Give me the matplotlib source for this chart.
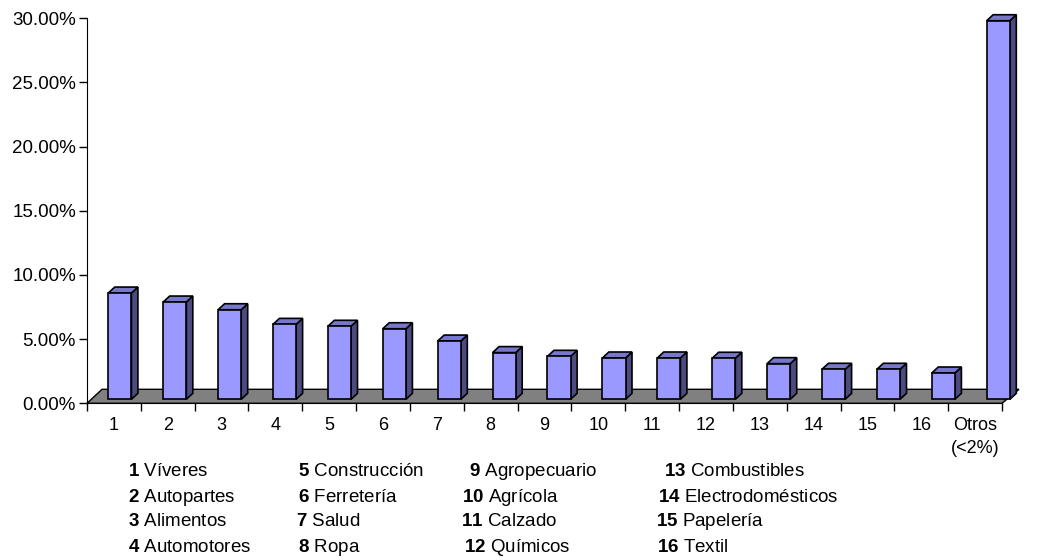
import numpy as np
import matplotlib.pyplot as plt
from matplotlib.patches import Polygon

# Datos (participación por sector)
categorias = ['1', '2', '3', '4', '5', '6', '7', '8', '9', '10', '11', '12',
              '13', '14', '15', '16', 'Otros\n(<2%)']
valores = [8.28, 7.58, 6.98, 5.84, 5.69, 5.50, 4.54, 3.64, 3.35, 3.22, 3.22,
           3.20, 2.78, 2.34, 2.34, 2.05, 29.5]
sectores = ['Víveres', 'Autopartes', 'Alimentos', 'Automotores',
            'Construcción', 'Ferretería', 'Salud', 'Ropa',
            'Agropecuario', 'Agrícola', 'Calzado', 'Químicos',
            'Combustibles', 'Electrodomésticos', 'Papelería', 'Textil']

plt.rcParams['font.family'] = ['Liberation Sans', 'DejaVu Sans']
plt.rcParams['mathtext.fontset'] = 'custom'
plt.rcParams['mathtext.rm'] = 'Liberation Sans'
plt.rcParams['mathtext.bf'] = 'Liberation Sans:bold'

W, H = 1041, 560
fig = plt.figure(figsize=(W / 100, H / 100), dpi=100)
# ejes en pixeles: x 87..1002, y 18..403 (desde arriba)
ax = fig.add_axes([87 / W, (H - 403.3) / H, (1002 - 87) / W, (403.3 - 18.3) / H])
n = len(valores)
ax.set_xlim(-0.5, n - 0.5)
ax.set_ylim(0, 30)
for s in ['top', 'right']:
    ax.spines[s].set_visible(False)
ax.spines['left'].set_bounds(0, 30)
ax.patch.set_alpha(0)

# posiciones de las barras (ligero corrimiento por la perspectiva 3D)
pos = np.arange(n) * 1.02 + 0.11
ancho = 0.43
base = 0.31


def px_to_data(pts):
    return ax.transData.inverted().transform(pts)


def data_to_px(pts):
    return ax.transData.transform(pts)


# piso gris
fd = data_to_px([(-0.5, 0), (n - 0.5, 0)])
piso = np.array([fd[0], fd[1], fd[1] + (17, 14), fd[0] + (15, 14)])
ax.add_patch(Polygon(px_to_data(piso), closed=True, facecolor='#808080',
                     edgecolor='black', lw=1, zorder=1, clip_on=False))

# barras 3D
barras = ax.bar(pos, valores, width=ancho, bottom=base, color='#9999FF',
                edgecolor='black', lw=1.2, zorder=3)
for b in barras:
    b.set_clip_on(False)
prof = np.array([6.5, 6.0])
for x, v in zip(pos, valores):
    bl, br, tr, tl = data_to_px([(x - ancho / 2, base), (x + ancho / 2, base),
                                 (x + ancho / 2, base + v), (x - ancho / 2, base + v)])
    lado = [br, tr, tr + prof, br + prof]
    tapa = [tl, tr, tr + prof, tl + prof]
    ax.add_patch(Polygon(px_to_data(lado), closed=True, facecolor='#4B4B80',
                         edgecolor='black', lw=1.2, zorder=2, clip_on=False))
    ax.add_patch(Polygon(px_to_data(tapa), closed=True, facecolor='#7777CC',
                         edgecolor='black', lw=1.2, zorder=2, clip_on=False))

# ejes
ax.set_yticks(np.arange(0, 31, 5))
ax.set_yticklabels([f'{t:.2f}%' for t in np.arange(0, 31, 5)], fontsize=13.5)
ax.tick_params(axis='y', length=6, width=1, pad=2)
ax.set_xticks(np.arange(n))
ax.set_xticklabels(categorias, fontsize=13, linespacing=1.45)
ax.set_xticks(np.arange(n + 1) - 0.5, minor=True)
ax.tick_params(axis='x', which='major', length=0, pad=10)
ax.tick_params(axis='x', which='minor', length=6, width=1)

# leyenda de sectores (texto)
col_x = [[128, 128, 128, 128], [298, 298, 296, 298],
         [469, 462, 461, 464], [664, 658, 656, 657]]
fila_y = [472, 497, 522, 547]
for i, nombre in enumerate(sectores):
    c, f = divmod(i, 4)
    fig.text(col_x[c][f] / W, 1 - fila_y[f] / H,
             r'$\mathbf{%d}$ %s' % (i + 1, nombre), fontsize=13.5,
             va='center', ha='left')

fig.savefig('out.png', dpi=100)
